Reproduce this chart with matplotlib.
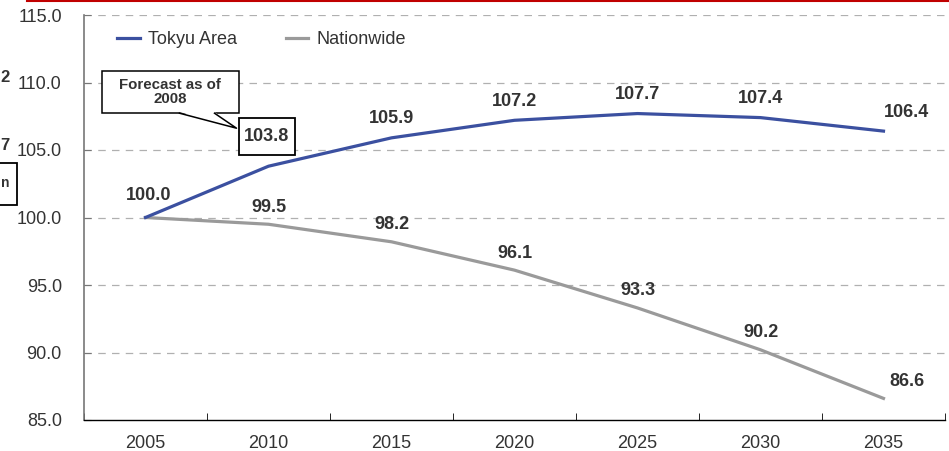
import matplotlib
matplotlib.use("Agg")
import matplotlib.pyplot as plt
from matplotlib import transforms
from matplotlib.patches import Rectangle, Polygon
from matplotlib.lines import Line2D
import numpy as np

years = ["2005", "2010", "2015", "2020", "2025", "2030", "2035"]
tokyu = [100.0, 103.8, 105.9, 107.2, 107.7, 107.4, 106.4]
nation = [100.0, 99.5, 98.2, 96.1, 93.3, 90.2, 86.6]
yticks = [85.0, 90.0, 95.0, 100.0, 105.0, 110.0, 115.0]

BLUE = "#3B50A0"
GRAY = "#9A9A9A"
TXT = "#333333"

plt.rcParams["font.family"] = ["Liberation Sans", "DejaVu Sans"]

fig = plt.figure(figsize=(9.49, 4.51), dpi=100)
ax = fig.add_axes([84 / 949, 1 - 420 / 451, 861 / 949, 405 / 451])

x = np.arange(len(years))
ax.plot(x, tokyu, color=BLUE, lw=2.3, label="Tokyu Area", zorder=3)
ax.plot(x, nation, color=GRAY, lw=2.3, label="Nationwide", zorder=2)

ax.set_xlim(-0.5, len(years) - 0.5)
ax.set_ylim(yticks[0], yticks[-1])
ax.set_yticks(yticks)
ax.set_yticklabels([f"{v:.1f}" for v in yticks])
ax.set_xticks(x)
ax.set_xticklabels(years)
ax.set_xticks(np.arange(len(years) + 1) - 0.5, minor=True)
ax.tick_params(axis="x", which="major", length=0, pad=11, labelsize=13, labelcolor=TXT)
ax.tick_params(axis="x", which="minor", direction="in", length=5, color="black")
ax.tick_params(axis="y", direction="in", length=5, color="#777777", labelsize=13,
               labelcolor=TXT, pad=16)
for v in yticks[1:]:
    ax.axhline(v, color="#B0B0B0", lw=0.9, ls=(0, (6, 5)), zorder=1)

for s in ["top", "right"]:
    ax.spines[s].set_visible(False)
ax.spines["left"].set_color("#777777")
ax.spines["left"].set_linewidth(1.2)
ax.spines["bottom"].set_color("black")
ax.spines["bottom"].set_linewidth(1.0)

leg = ax.legend(loc="upper left", ncol=2, frameon=False, fontsize=13,
                bbox_to_anchor=(0.02, 1.0), handlelength=1.25, handletextpad=0.45,
                columnspacing=2.7)
for t in leg.get_texts():
    t.set_color(TXT)

lab = dict(fontsize=13, fontweight="bold", color=TXT, ha="center", va="center")
PT = 0.72  # points per pixel
last = len(years) - 1

for i, v in enumerate(tokyu):
    if i == 1:
        continue
    dx = 23 if i == last else (3 if i == 0 else 0)
    dy = 22 if i == 0 else 19
    ax.annotate(f"{v:.1f}", (x[i], v), xytext=(dx * PT, dy * PT),
                textcoords="offset points", **lab)
for i, v in enumerate(nation):
    if i == 0:
        continue
    dx = 23 if i == last else 0
    ax.annotate(f"{v:.1f}", (x[i], v), xytext=(dx * PT, 17 * PT),
                textcoords="offset points", **lab)

# callout anchored to the 2010 Tokyu point, sizes in pixels
t = (transforms.Affine2D().scale(0.01) + fig.dpi_scale_trans
     + transforms.ScaledTranslation(x[1], tokyu[1], ax.transData))
ax.add_patch(Rectangle((-30, 11), 56, 37, transform=t, fc="white", ec="black",
                       lw=1.3, zorder=5, clip_on=False))
ax.text(-2, 29.5, f"{tokyu[1]:.1f}", transform=t, zorder=6, **lab)
ax.add_patch(Rectangle((-167, 53), 137, 42, transform=t, fc="white", ec="black",
                       lw=1.1, zorder=5, clip_on=False))
ax.add_patch(Polygon([(-89, 54.2), (-54, 54.2), (-32, 38)], closed=True, transform=t,
                     fc="white", ec="none", zorder=6, clip_on=False))
ax.add_line(Line2D([-89, -32, -54], [53, 38, 53], transform=t, color="black", lw=1.1,
                   zorder=7, clip_on=False))
ax.text(-98.5, 74, "Forecast as of\n2008", transform=t, fontsize=10.8, fontweight="bold",
        color=TXT, ha="center", va="center", linespacing=0.95, zorder=7)

# fragments at the image edge
fig.add_artist(Line2D([27 / 949, 1], [1 - 1 / 451, 1 - 1 / 451], color="#C00000", lw=1.5))
fig.text(0, 1 - 78 / 451, "2", fontsize=12, fontweight="bold", color=TXT, va="center")
fig.text(0, 1 - 146 / 451, "7", fontsize=12, fontweight="bold", color=TXT, va="center")
fig.add_artist(Rectangle((-10 / 949, 1 - 205 / 451), 27 / 949, 42 / 451, fc="none",
                         ec="black", lw=1.3, transform=fig.transFigure))
fig.text(1 / 949, 1 - 183 / 451, "n", fontsize=10, fontweight="bold", color=TXT, va="center")

fig.savefig("out.png", dpi=100)
